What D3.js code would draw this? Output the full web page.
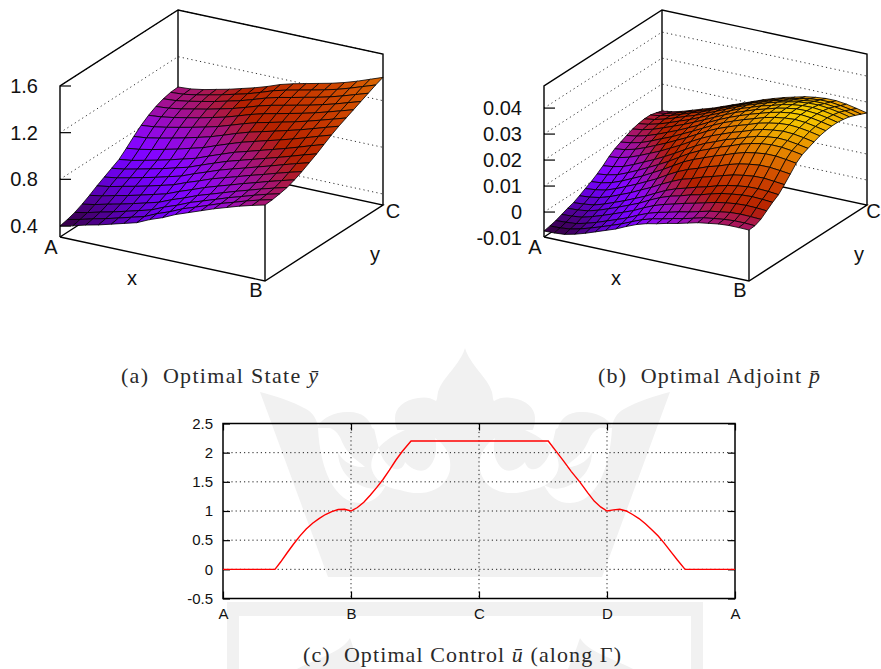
<!DOCTYPE html>
<html>
<head>
<meta charset="utf-8">
<script src="https://cdn.jsdelivr.net/npm/d3@7"></script>
<style>
  body { margin: 0; background: #fff; }
  text { font-family: "Liberation Sans", sans-serif; fill: #111; }
  .caption { font-family: "Liberation Serif", serif; font-size: 22px; fill: #2a2a2a; }
</style>
</head>
<body>
<div id="chart"></div>
<script>
// surface heights, row = y from A side to back, column = x from A to B
var stateRows = [
  [.400,.425,.455,.480,.510,.540,.570,.620,.660,.710,.750,.790,.830,.865,.900,.930,.957],
  [.415,.439,.468,.493,.522,.552,.581,.630,.670,.719,.757,.796,.835,.869,.904,.935,.962],
  [.435,.457,.485,.510,.539,.568,.598,.646,.685,.732,.769,.806,.844,.877,.912,.944,.972],
  [.465,.485,.512,.536,.564,.593,.623,.668,.707,.751,.786,.822,.858,.891,.925,.956,.985],
  [.500,.519,.545,.569,.596,.625,.654,.698,.737,.779,.814,.848,.883,.915,.949,.980,1.01],
  [.540,.558,.583,.607,.633,.662,.691,.734,.772,.813,.846,.879,.913,.944,.978,1.010,1.04],
  [.575,.592,.616,.641,.667,.696,.725,.768,.807,.847,.880,.912,.945,.977,1.011,1.044,1.075],
  [.610,.626,.650,.675,.701,.731,.760,.802,.842,.881,.913,.945,.977,1.009,1.043,1.078,1.11],
  [.645,.660,.684,.709,.736,.766,.796,.838,.878,.918,.949,.981,1.013,1.045,1.080,1.116,1.15],
  [.700,.714,.736,.761,.787,.817,.846,.887,.926,.963,.994,1.024,1.054,1.086,1.120,1.156,1.19],
  [.760,.772,.793,.817,.842,.870,.899,.936,.974,1.009,1.037,1.065,1.094,1.124,1.157,1.192,1.225],
  [.815,.826,.845,.868,.892,.918,.946,.981,1.017,1.050,1.075,1.102,1.128,1.157,1.189,1.222,1.255],
  [.860,.870,.888,.910,.933,.959,.986,1.020,1.056,1.086,1.110,1.135,1.160,1.188,1.219,1.252,1.285],
  [.895,.904,.921,.944,.966,.992,1.019,1.052,1.088,1.117,1.141,1.165,1.189,1.217,1.247,1.281,1.315],
  [.920,.928,.946,.968,.991,1.018,1.045,1.079,1.115,1.144,1.167,1.192,1.216,1.243,1.275,1.310,1.345],
  [.935,.942,.960,.984,1.008,1.036,1.064,1.099,1.137,1.166,1.190,1.214,1.239,1.267,1.301,1.338,1.375],
  [.940,.947,.965,.990,1.015,1.045,1.075,1.110,1.150,1.180,1.205,1.230,1.255,1.285,1.320,1.360,1.40]
];

// same layout, in units of 1e-4
var adjointRows = [
  [-73,-72,-69,-60,-48,-34,-20,-6,12,28,40,48,58,66,76,86,92,98,101,101,100],
  [-68,-67,-63,-54,-42,-29,-15,-1,16,32,44,52,62,70,80,90,96,101,104,104,102],
  [-62,-60,-57,-47,-35,-21,-7,8,26,42,54,63,73,81,91,101,107,113,115,114,112],
  [-53,-51,-47,-36,-23,-9,6,21,40,57,70,80,91,100,110,120,127,132,134,133,130],
  [-44,-42,-37,-26,-12,3,19,35,55,73,87,97,109,118,130,140,146,151,153,151,148],
  [-37,-34,-29,-17,-2,13,30,47,67,86,101,112,124,134,146,156,163,168,169,167,163],
  [-25,-22,-15,-3,13,29,48,66,87,106,123,134,148,159,171,182,189,194,195,191,187],
  [-12,-8,-1,13,30,47,66,85,108,129,146,159,174,185,199,210,217,222,222,218,213],
  [0,4,13,28,46,64,85,106,129,152,170,185,200,213,227,239,246,251,251,246,240],
  [15,20,29,45,63,82,102,123,147,170,189,204,220,233,248,259,267,271,270,265,258],
  [32,37,46,62,80,98,118,139,162,184,203,218,234,246,260,272,279,283,281,275,268],
  [52,57,67,82,99,116,136,156,178,199,217,232,247,259,273,284,290,294,292,286,278],
  [68,73,83,98,115,132,151,170,191,212,230,245,259,271,285,294,301,304,301,295,287],
  [79,85,94,109,126,142,161,180,200,220,238,253,267,279,292,301,307,310,307,300,292],
  [90,96,106,120,136,152,170,188,208,227,244,259,273,285,297,306,312,314,310,303,295],
  [100,106,116,130,145,160,177,195,213,231,248,262,276,287,299,307,313,314,311,304,295],
  [106,112,122,135,150,164,181,198,215,232,249,262,276,286,298,306,311,312,308,301,292],
  [110,116,126,139,153,166,182,198,215,231,247,260,273,284,294,302,306,307,303,296,287],
  [110,116,125,138,152,164,180,195,211,226,241,254,267,276,287,293,298,298,294,287,278],
  [104,110,120,133,145,158,173,188,203,218,233,246,258,268,278,285,289,289,284,277,268],
  [96,102,112,125,138,150,165,180,195,210,225,238,250,260,270,276,280,280,275,267,258]
];

var stateTicks = [0.4, 0.8, 1.2, 1.6];
var stateTickLabels = ["0.4", "0.8", "1.2", "1.6"];
var adjointTicks = [-100, 0, 100, 200, 300, 400];
var adjointTickLabels = ["-0.01", "0", "0.01", "0.02", "0.03", "0.04"];

// control along the boundary, 0..4 = A B C D A
var controlPos = [0,.406,.45,.50,.55,.60,.65,.70,.75,.80,.85,.90,.95,1.0,1.05,1.10,1.15,1.20,1.25,1.30,1.35,1.40,1.469,2.541,2.60,2.66,2.72,2.79,2.85,2.90,2.95,3.0,3.05,3.10,3.15,3.20,3.25,3.30,3.35,3.40,3.45,3.50,3.55,3.61,4];
var controlVal = [0,0,.125,.28,.43,.57,.69,.79,.87,.94,.99,1.025,1.03,1.0,1.06,1.15,1.27,1.40,1.54,1.70,1.87,2.02,2.2,2.2,2.03,1.86,1.68,1.49,1.31,1.17,1.07,1.0,1.02,1.03,1.00,.94,.87,.78,.68,.57,.44,.30,.16,0,0];
var controlYTicks = [-0.5, 0, 0.5, 1, 1.5, 2, 2.5];
var controlYLabels = ["-0.5", "0", "0.5", "1", "1.5", "2", "2.5"];
var controlXTicks = [0, 1, 2, 3, 4];
var controlXLabels = ["A", "B", "C", "D", "A"];

var svg = d3.select("#chart").append("svg")
    .attr("width", 881)
    .attr("height", 669)
    .style("display", "block");

// watermark behind everything, left half then its mirror
var wmColor = "#f1f1f1";
function drawWatermarkHalf(g) {
    g.append("path").attr("fill", wmColor)
        .attr("d", "M465,348 C460,365 442,378 438,392 C437,398 437,400 436,401 C430,397 424,397 418,398 C404,400 395,408 395,418 C395,424 396,428 398,431 L385,434 L372,428 C370,418 360,411 347,412 C335,412 322,418 318,426 C316,418 313,413 306,409 C292,401 275,396 260,392 L328,577 L465,577 Z");
    g.append("path").attr("fill", "#fff")
        .attr("d", "M318,428 C320,470 335,503 360,503 C372,503 380,497 386,485 C378,490 368,490 358,484 C345,478 338,465 338,452 C340,458 350,468 365,467 C358,460 350,458 342,442 C340,436 336,430 330,428 Z");
    g.append("path").attr("fill", "#fff")
        .attr("d", "M374,428 L398,430 L405,430 C382,440 368,455 372,470 C375,480 385,488 400,490 C420,497 445,493 450,470 C452,455 445,445 435,438 C438,450 435,465 425,470 C420,472 412,470 405,462 C403,470 395,472 388,465 C380,458 378,445 374,428 Z");
    g.append("path").attr("fill", wmColor)
        .attr("d", "M227,602 H465 V616 H239 V669 H227 Z");
    g.append("path").attr("fill", wmColor)
        .attr("d", "M297,669 C320,657 342,652 350,638 C354,650 358,660 362,669 Z");
}
drawWatermarkHalf(svg.append("g"));
drawWatermarkHalf(svg.append("g").attr("transform", "translate(930,0) scale(-1,1)"));

// gnuplot default pm3d palette (rgbformulae 7,5,15)
function palette(t) {
    t = Math.max(0, Math.min(1, t));
    var r = Math.sqrt(t), g = t * t * t, b = Math.max(0, Math.sin(2 * Math.PI * t));
    return d3.rgb(255 * r, 255 * g, 255 * b).formatHex();
}

function drawSurface(opts) {
    var g = svg.append("g").attr("transform", "translate(" + opts.left + ",0)");
    var rows = opts.rows;
    var n = rows.length - 1;

    var uX = d3.scaleLinear().domain([0, n]).range([0, 205]);
    var uY = d3.scaleLinear().domain([0, n]).range([0, 44]);
    var vX = d3.scaleLinear().domain([0, n]).range([0, 118]);
    var vY = d3.scaleLinear().domain([0, n]).range([0, -76]);
    var zY = d3.scaleLinear().domain(opts.zDomain).range([0, -151]);
    var colour = d3.scaleLinear().domain(opts.cDomain).range([0, 1]);

    var baseY = 237;
    function px(i, j) { return uX(i) + vX(j); }
    function py(i, j, z) { return baseY + uY(i) + vY(j) + zY(z); }
    var zBase = opts.zDomain[0];
    function corner(i, j, z) { return [px(i, j), py(i, j, z)]; }

    var line = d3.line();
    function stroke(pts, w) {
        return g.append("path").attr("d", line(pts))
            .attr("fill", "none").attr("stroke", "#000").attr("stroke-width", w || 1.4);
    }

    // back walls and base
    var zTop = opts.zDomain[1];
    opts.ticks.forEach(function(t) {
        g.append("path")
            .attr("d", line([corner(0, 0, t), corner(0, n, t), corner(n, n, t)]))
            .attr("fill", "none").attr("stroke", "#333").attr("stroke-width", 1)
            .attr("stroke-dasharray", "1.2,3.2");
    });
    stroke([corner(0, 0, zBase), corner(n, 0, zBase), corner(n, n, zBase), corner(0, n, zBase), corner(0, 0, zBase)]);
    stroke([corner(0, 0, zBase), corner(0, 0, zTop), corner(0, n, zTop), corner(n, n, zTop), corner(n, n, zBase)]);
    stroke([corner(0, n, zBase), corner(0, n, zTop)]);

    // z ticks
    g.selectAll(".ztick").data(opts.ticks).enter().append("line")
        .attr("x1", 0).attr("x2", 11)
        .attr("y1", function(t) { return py(0, 0, t); })
        .attr("y2", function(t) { return py(0, 0, t); })
        .attr("stroke", "#000").attr("stroke-width", 1.2);

    // surface, far cells first
    var cells = [];
    for (var j = n - 1; j >= 0; j--) {
        for (var i = 0; i < n; i++) {
            cells.push({i: i, j: j, z: (rows[j][i] + rows[j][i + 1] + rows[j + 1][i] + rows[j + 1][i + 1]) / 4});
        }
    }
    g.selectAll(".cell").data(cells).enter().append("path")
        .attr("d", function(c) {
            return line([
                corner(c.i, c.j, rows[c.j][c.i]),
                corner(c.i + 1, c.j, rows[c.j][c.i + 1]),
                corner(c.i + 1, c.j + 1, rows[c.j + 1][c.i + 1]),
                corner(c.i, c.j + 1, rows[c.j + 1][c.i])
            ]) + "Z";
        })
        .attr("fill", function(c) { return palette(colour(c.z)); })
        .attr("stroke", "#000").attr("stroke-opacity", 0.9).attr("stroke-width", 0.9);

    // front corner edge sits in front of the surface
    stroke([corner(n, 0, rows[0][n]), corner(n, 0, zBase)]);

    g.selectAll(".zlabel").data(opts.ticks).enter().append("text")
        .attr("x", opts.labelRight - opts.left)
        .attr("y", function(t) { return py(0, 0, t) + 7; })
        .attr("text-anchor", "end")
        .attr("font-size", 20)
        .text(function(t, k) { return opts.tickLabels[k]; });

    var names = [["A", -9, 254], ["B", 196, 297], ["C", opts.cLabelX, 218], ["x", 72, 285], ["y", 315, 261]];
    g.selectAll(".name").data(names).enter().append("text")
        .attr("x", function(d) { return d[1]; })
        .attr("y", function(d) { return d[2]; })
        .attr("text-anchor", "middle")
        .attr("font-size", 20)
        .text(function(d) { return d[0]; });
}

drawSurface({
    left: 60, rows: stateRows, zDomain: [0.3057, 1.6], cDomain: [0.35, 1.75],
    ticks: stateTicks, tickLabels: stateTickLabels, labelRight: 38, cLabelX: 333
});
drawSurface({
    left: 544, rows: adjointRows, zDomain: [-96, 485], cDomain: [-90, 345],
    ticks: adjointTicks.filter(function(t) { return t > -96; }), tickLabels: adjointTickLabels.slice(1), labelRight: 522, cLabelX: 329.5
});
// bottom tick label of (b) sits just under the axis floor
svg.append("text").attr("x", 522).attr("y", 245).attr("text-anchor", "end")
    .attr("font-size", 20).text(adjointTickLabels[0]);

// line chart
var margin = {top: 423.5, right: 146, bottom: 70.5, left: 223},
    width = 881 - margin.left - margin.right,
    height = 669 - margin.top - margin.bottom;

var x = d3.scaleLinear().domain([0, 4]).range([0, width]);
var y = d3.scaleLinear().domain([-0.5, 2.5]).range([height, 0]);

var plot = svg.append("g")
    .attr("transform", "translate(" + margin.left + "," + margin.top + ")");

var dots = "1.2,3";
plot.selectAll(".gridy").data(controlYTicks.slice(1, -1)).enter().append("line")
    .attr("x1", 0).attr("x2", width)
    .attr("y1", y).attr("y2", y)
    .attr("stroke", "#222").attr("stroke-dasharray", dots);
plot.selectAll(".gridx").data(controlXTicks.slice(1, -1)).enter().append("line")
    .attr("x1", x).attr("x2", x)
    .attr("y1", 0).attr("y2", height)
    .attr("stroke", "#222").attr("stroke-dasharray", dots);

var yAxis = d3.axisLeft(y).tickValues(controlYTicks)
    .tickFormat(function(d, i) { return controlYLabels[i]; })
    .tickSize(-7).tickPadding(10);
var yAxisRight = d3.axisRight(y).tickValues(controlYTicks).tickFormat("").tickSize(-7);
var xAxis = d3.axisBottom(x).tickValues(controlXTicks)
    .tickFormat(function(d, i) { return controlXLabels[i]; })
    .tickSize(-7).tickPadding(10);
var xAxisTop = d3.axisTop(x).tickValues(controlXTicks).tickFormat("").tickSize(-7);

function styleAxis(sel) {
    sel.selectAll("text").attr("font-family", "Liberation Sans").attr("font-size", 15).attr("fill", "#111");
    sel.selectAll("line").attr("stroke", "#000").attr("stroke-width", 1.2);
    sel.select(".domain").remove();
}
plot.append("g").call(yAxis).call(styleAxis);
plot.append("g").attr("transform", "translate(" + width + ",0)").call(yAxisRight).call(styleAxis);
plot.append("g").attr("transform", "translate(0," + height + ")").call(xAxis).call(styleAxis);
plot.append("g").call(xAxisTop).call(styleAxis);

plot.append("rect")
    .attr("width", width).attr("height", height)
    .attr("fill", "none").attr("stroke", "#000").attr("stroke-width", 1.5);

var controlLine = d3.line()
    .x(function(d) { return x(d); })
    .y(function(d, i) { return y(controlVal[i]); });
plot.append("path")
    .attr("d", controlLine(controlPos))
    .attr("fill", "none").attr("stroke", "#f00").attr("stroke-width", 1.4);

// captions
function caption(xPos, yPos, len, before, symbol, after) {
    var t = svg.append("text").attr("class", "caption")
        .attr("x", xPos).attr("y", yPos)
        .attr("textLength", len).attr("lengthAdjust", "spacing");
    t.append("tspan").text(before);
    t.append("tspan").attr("font-style", "italic").text(symbol);
    if (after) t.append("tspan").text(after);
}
caption(121, 383, 197, "(a)\u00a0 Optimal State ", "y\u0304");
caption(598, 383, 222, "(b)\u00a0 Optimal Adjoint ", "p\u0304");
caption(303, 662, 318, "(c)\u00a0 Optimal Control ", "u\u0304", " (along \u0393)");
</script>
</body>
</html>
